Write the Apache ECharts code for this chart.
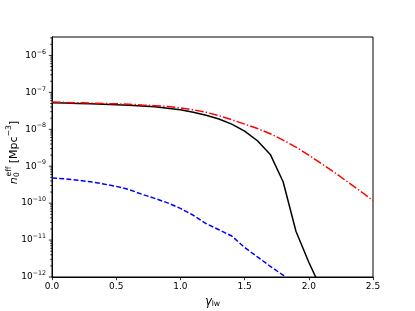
<!DOCTYPE html>
<html><head><meta charset="utf-8">
<script src="https://cdn.jsdelivr.net/npm/echarts@6/dist/echarts.min.js"></script>
<style>html,body{margin:0;padding:0;background:#fff}#c{width:415px;height:311px}</style>
</head><body><div id="c"></div>
<script>
// x grid (gamma_lw)
const gammaLW = [0.0,0.1,0.2,0.3,0.4,0.5,0.6,0.7,0.8,0.9,1.0,1.1,1.2,1.3,1.4,1.5,1.6,1.7,1.8,1.9,2.0,2.1,2.2,2.3,2.4,2.5];
// n0_eff [Mpc^-3], black solid
const nBlack = [5.25e-8,5.13e-8,5.01e-8,4.90e-8,4.79e-8,4.62e-8,4.47e-8,4.27e-8,4.07e-8,3.72e-8,3.39e-8,2.88e-8,2.40e-8,1.91e-8,1.38e-8,8.9e-9,4.9e-9,2.09e-9,3.8e-10,1.74e-11,2.5e-12,4.5e-13];
// red dash-dot
const nRed = [5.5e-8,5.37e-8,5.25e-8,5.13e-8,5.01e-8,4.9e-8,4.79e-8,4.57e-8,4.37e-8,4.17e-8,3.8e-8,3.39e-8,2.88e-8,2.34e-8,1.82e-8,1.38e-8,1.05e-8,7.6e-9,5.1e-9,3.3e-9,2.0e-9,1.17e-9,6.8e-10,3.8e-10,2.14e-10,1.17e-10];
// blue dashed
const nBlue = [4.8e-10,4.57e-10,4.17e-10,3.8e-10,3.31e-10,2.85e-10,2.34e-10,1.74e-10,1.35e-10,1.02e-10,7.2e-11,4.7e-11,2.8e-11,1.9e-11,1.29e-11,6.3e-12,3.5e-12,1.95e-12,1.12e-12,6.0e-13];
// axis settings
const yDecades = [-12,-11,-10,-9,-8,-7,-6];
const yMinExp = -12, yMaxExp = -5.5;
const xTicks = [0,0.5,1.0,1.5,2.0,2.5];

const FONT = '"DejaVu Sans"';
const toPts = arr => arr.map((v,i)=>[gammaLW[i], Math.log10(v)]);

const majorTicks = yDecades.map(e=>[0,e,3.2]);
const minorTicks = [];
yDecades.forEach(e=>{ for(let k=2;k<=9;k++){ const v=e+Math.log10(k); if(v<=yMaxExp) minorTicks.push([0,v,1.8]); } });

const cv = document.createElement('canvas').getContext('2d');
function tw(t,size,italic){ cv.font=(italic?'italic ':'')+size+'px '+FONT; return cv.measureText(t).width; }
const M=11, S=7.7;
const wn=tw('n',M,true), we=tw('eff',S), w0=tw('0',S), wm=tw(' [Mpc',M), w3=tw('\u22123',S), wb=tw(']',M);
const sw=Math.max(we,w0);
const tot=wn+0.6+sw+wm+w3+wb;
let s=-tot/2;
const ylab=[
  {type:'text',x:s,y:0,style:{text:'n',fontSize:M,fontStyle:'italic',fontFamily:FONT,fill:'#000',verticalAlign:'middle'}},
  {type:'text',x:s+wn+0.2,y:3,style:{text:'0',fontSize:S,fontFamily:FONT,fill:'#000',verticalAlign:'middle'}},
  {type:'text',x:s+wn+0.8,y:-5.2,style:{text:'eff',fontSize:S,fontFamily:FONT,fill:'#000',verticalAlign:'middle'}},
  {type:'text',x:s+wn+0.6+sw,y:0,style:{text:' [Mpc',fontSize:M,fontFamily:FONT,fill:'#000',verticalAlign:'middle'}},
  {type:'text',x:s+wn+0.6+sw+wm,y:-4.8,style:{text:'\u22123',fontSize:S,fontFamily:FONT,fill:'#000',verticalAlign:'middle'}},
  {type:'text',x:s+wn+0.6+sw+wm+w3,y:0,style:{text:']',fontSize:M,fontFamily:FONT,fill:'#000',verticalAlign:'middle'}}
];

const tickRender = (params, api) => {
  const p = api.coord([api.value(0), api.value(1)]);
  const len = api.value(2);
  return {type:'line', shape:{x1:p[0]-len,y1:p[1],x2:p[0],y2:p[1]}, style:{stroke:'#000',lineWidth:0.8}};
};

const chart = echarts.init(document.getElementById('c'), null, {renderer:'canvas'});
chart.setOption({
  animation:false,
  backgroundColor:'#fff',
  grid:{left:52,right:42,top:37,bottom:34,show:true,borderColor:'#000',borderWidth:1,backgroundColor:'transparent'},
  xAxis:{type:'value',min:xTicks[0],max:xTicks[xTicks.length-1],interval:0.5,
    axisLine:{show:true,onZero:false,lineStyle:{color:'#000',width:1}},
    axisTick:{show:true,inside:false,length:3.2,lineStyle:{color:'#000',width:0.8}},
    splitLine:{show:false},
    axisLabel:{margin:5,fontSize:9,fontFamily:FONT,color:'#000',formatter:v=>v.toFixed(1)}},
  yAxis:{type:'value',min:yMinExp,max:yMaxExp,interval:1,
    axisLine:{show:true,onZero:false,lineStyle:{color:'#000',width:1}},
    axisTick:{show:false},
    splitLine:{show:false},
    axisLabel:{margin:6,fontFamily:FONT,color:'#000',
      formatter:v=> (Math.abs(v-Math.round(v))>1e-9)?'':'{b|10}{s|\u2212'+Math.abs(Math.round(v))+'}',
      rich:{b:{fontSize:9,fontFamily:FONT,color:'#000'},s:{fontSize:6.3,fontFamily:FONT,color:'#000',padding:[0,0,7,0]}}}},
  graphic:[
    {type:'group',x:14,y:152.5,rotation:Math.PI/2,children:ylab},
    {type:'text',x:212.5,y:302,style:{text:'{g|\u03b3}{s|lw}',textAlign:'center',verticalAlign:'middle',
      rich:{g:{fontSize:11.5,fontStyle:'italic',fontFamily:FONT,fill:'#000'},s:{fontSize:7.7,fontFamily:FONT,fill:'#000',padding:[5,0,0,0]}}}}
  ],
  series:[
    {type:'line',data:toPts(nBlack),symbol:'none',clip:true,lineStyle:{color:'#000',width:1.5,type:'solid'},z:3},
    {type:'line',data:toPts(nBlue),symbol:'none',clip:true,lineStyle:{color:'#0000ff',width:1.5,type:[5,2.2]},z:3},
    {type:'line',data:toPts(nRed),symbol:'none',clip:true,lineStyle:{color:'#ff0000',width:1.5,type:[8.6,2.2,1.35,2.2]},z:4},
    {type:'custom',data:majorTicks,renderItem:tickRender,silent:true,clip:false,z:5},
    {type:'custom',data:minorTicks,renderItem:tickRender,silent:true,clip:false,z:5}
  ]
});
</script></body></html>
